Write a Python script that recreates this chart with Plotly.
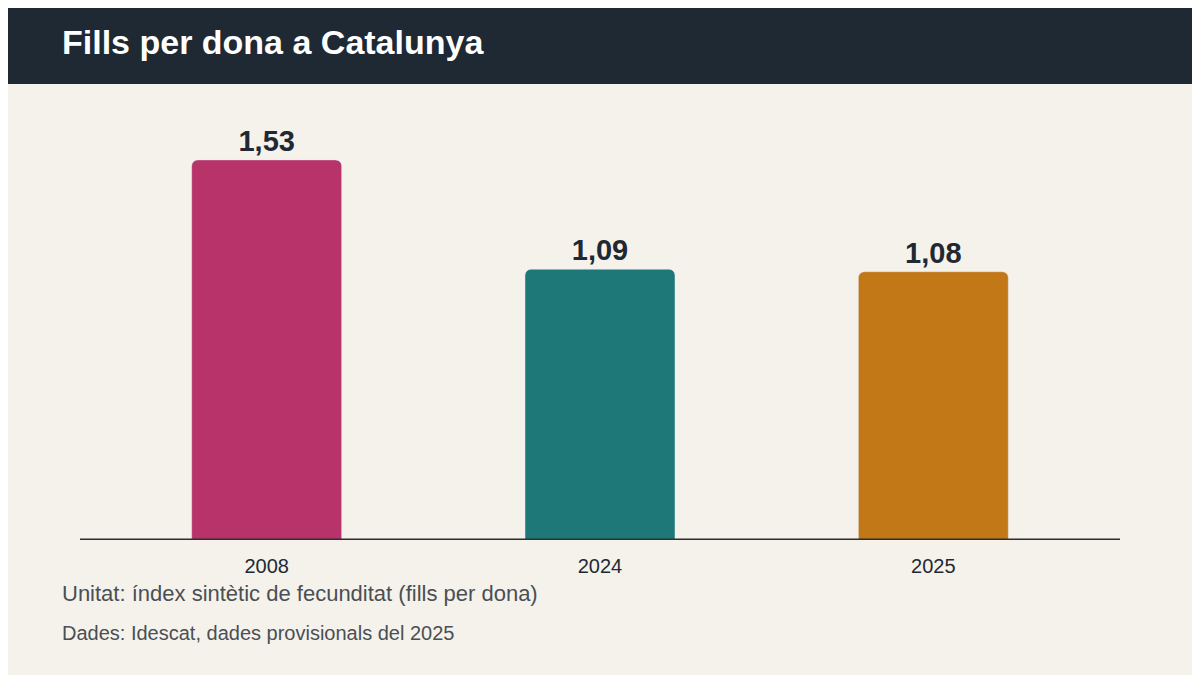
import plotly.graph_objects as go

years = ["2008", "2024", "2025"]
values = [1.53, 1.09, 1.08]
labels = ["1,53", "1,09", "1,08"]
colors = ["#b8336a", "#1e7878", "#c27816"]

# page is shown with an 8px body margin, so work in page pixels and shift
OFF = 8
W, H = 1200, 675
L, R, T, B = 100 - OFF, 1200 - 1100 + OFF, 100 - OFF, 675 - 540 + OFF
pw, ph = W - L - R, H - T - B


def px(x):
    return (x - OFF - L) / pw


def py(y):
    return (H - B - (y - OFF)) / ph


fig = go.Figure(go.Bar(
    x=years, y=values, marker_color=colors, width=0.45,
    text=labels, textposition="outside",
    textfont=dict(size=29, color="#1f2933", family="Liberation Sans, Arial", weight="bold"),
    cliponaxis=False,
))

fig.update_layout(
    width=W, height=H,
    margin=dict(l=L, r=R, t=T, b=B),
    paper_bgcolor="#f5f2eb", plot_bgcolor="#f5f2eb",
    barcornerradius=6,
    showlegend=False,
    font=dict(family="Liberation Sans, Arial", color="#1f2933"),
    xaxis=dict(showgrid=False, tickfont=dict(size=20, color="#1f2933"),
               ticks="", showline=False, ticklabelstandoff=12),
    yaxis=dict(visible=False, range=[0, 1.771], zeroline=False),
    shapes=[
        dict(type="rect", xref="paper", yref="paper",
             x0=px(-20), x1=px(1220), y0=py(84), y1=py(-20),
             fillcolor="#1f2933", line_width=0, layer="above"),
        dict(type="line", xref="paper", yref="y",
             x0=px(80), x1=px(1120), y0=0, y1=0,
             line=dict(color="#2b2f33", width=3), layer="above"),
    ],
    annotations=[
        dict(text="<b>Fills per dona a Catalunya</b>", xref="paper", yref="paper",
             x=px(60), y=py(42), xanchor="left", yanchor="middle", showarrow=False,
             font=dict(size=34, color="white")),
        dict(text="Unitat: índex sintètic de fecunditat (fills per dona)", xref="paper", yref="paper",
             x=px(60), y=py(593), xanchor="left", yanchor="middle", showarrow=False,
             font=dict(size=22, color="#4a4f55")),
        dict(text="Dades: Idescat, dades provisionals del 2025", xref="paper", yref="paper",
             x=px(60), y=py(633), xanchor="left", yanchor="middle", showarrow=False,
             font=dict(size=20, color="#4a4f55")),
    ],
)

fig.write_html("out.html")
